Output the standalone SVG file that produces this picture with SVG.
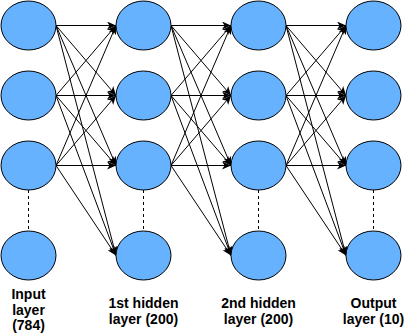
<svg xmlns="http://www.w3.org/2000/svg" width="413" height="334" viewBox="0 0 413 334">
<style>
.n{fill:#66B2FF;stroke:#000;stroke-width:1}
.e{stroke:#000;stroke-width:1;fill:none;marker-end:url(#a)}
.d{stroke:#000;stroke-width:1;stroke-dasharray:3 3;fill:none}
.t{font-family:"Liberation Sans",Arial,sans-serif;font-size:14px;font-weight:bold;fill:#000;text-anchor:middle}
</style>
<defs>
<marker id="a" markerUnits="userSpaceOnUse" markerWidth="9" markerHeight="8" viewBox="0 0 9 8" refX="9" refY="4" orient="auto">
<path d="M0,0 L9,4 L0,8 L2.5,4 z" fill="#000"/>
</marker>
</defs>
<rect width="413" height="334" fill="#fff"/>
<g id="connectors">
<line class="e" x1="56" y1="25.5" x2="116" y2="25.5"/>
<line class="e" x1="56" y1="25.5" x2="116" y2="95.5"/>
<line class="e" x1="56" y1="25.5" x2="116" y2="165.5"/>
<line class="e" x1="56" y1="25.5" x2="116" y2="255.5"/>
<line class="e" x1="56" y1="95.5" x2="116" y2="25.5"/>
<line class="e" x1="56" y1="95.5" x2="116" y2="95.5"/>
<line class="e" x1="56" y1="95.5" x2="116" y2="165.5"/>
<line class="e" x1="56" y1="95.5" x2="116" y2="255.5"/>
<line class="e" x1="56" y1="165.5" x2="116" y2="25.5"/>
<line class="e" x1="56" y1="165.5" x2="116" y2="95.5"/>
<line class="e" x1="56" y1="165.5" x2="116" y2="165.5"/>
<line class="e" x1="56" y1="165.5" x2="116" y2="255.5"/>
<line class="e" x1="171" y1="25.5" x2="231" y2="25.5"/>
<line class="e" x1="171" y1="25.5" x2="231" y2="95.5"/>
<line class="e" x1="171" y1="25.5" x2="231" y2="165.5"/>
<line class="e" x1="171" y1="25.5" x2="231" y2="255.5"/>
<line class="e" x1="171" y1="95.5" x2="231" y2="25.5"/>
<line class="e" x1="171" y1="95.5" x2="231" y2="95.5"/>
<line class="e" x1="171" y1="95.5" x2="231" y2="165.5"/>
<line class="e" x1="171" y1="95.5" x2="231" y2="255.5"/>
<line class="e" x1="171" y1="165.5" x2="231" y2="25.5"/>
<line class="e" x1="171" y1="165.5" x2="231" y2="95.5"/>
<line class="e" x1="171" y1="165.5" x2="231" y2="165.5"/>
<line class="e" x1="171" y1="165.5" x2="231" y2="255.5"/>
<line class="e" x1="286" y1="25.5" x2="346" y2="25.5"/>
<line class="e" x1="286" y1="25.5" x2="346" y2="95.5"/>
<line class="e" x1="286" y1="25.5" x2="346" y2="165.5"/>
<line class="e" x1="286" y1="25.5" x2="346" y2="255.5"/>
<line class="e" x1="286" y1="95.5" x2="346" y2="25.5"/>
<line class="e" x1="286" y1="95.5" x2="346" y2="95.5"/>
<line class="e" x1="286" y1="95.5" x2="346" y2="165.5"/>
<line class="e" x1="286" y1="95.5" x2="346" y2="255.5"/>
<line class="e" x1="286" y1="165.5" x2="346" y2="25.5"/>
<line class="e" x1="286" y1="165.5" x2="346" y2="95.5"/>
<line class="e" x1="286" y1="165.5" x2="346" y2="165.5"/>
<line class="e" x1="286" y1="165.5" x2="346" y2="255.5"/>
<line class="d" x1="28.5" y1="190" x2="28.5" y2="231"/>
<line class="d" x1="143.5" y1="190" x2="143.5" y2="231"/>
<line class="d" x1="258.5" y1="190" x2="258.5" y2="231"/>
<line class="d" x1="373.5" y1="190" x2="373.5" y2="231"/>
</g>
<g id="input-layer">
<ellipse id="in1" class="n" cx="28.5" cy="25.5" rx="27.5" ry="24.5"/>
<ellipse id="in2" class="n" cx="28.5" cy="95.5" rx="27.5" ry="24.5"/>
<ellipse id="in3" class="n" cx="28.5" cy="165.5" rx="27.5" ry="24.5"/>
<ellipse id="in4" class="n" cx="28.5" cy="255.5" rx="27.5" ry="24.5"/>
<text class="t" x="28.5" y="299">Input</text>
<text class="t" x="28.5" y="314.5">layer</text>
<text class="t" x="28.5" y="330">(784)</text>
</g>
<g id="hidden1-layer">
<ellipse id="h1a" class="n" cx="143.5" cy="25.5" rx="27.5" ry="24.5"/>
<ellipse id="h1b" class="n" cx="143.5" cy="95.5" rx="27.5" ry="24.5"/>
<ellipse id="h1c" class="n" cx="143.5" cy="165.5" rx="27.5" ry="24.5"/>
<ellipse id="h1d" class="n" cx="143.5" cy="255.5" rx="27.5" ry="24.5"/>
<text class="t" x="143.5" y="308">1st hidden</text>
<text class="t" x="143.5" y="323.5">layer (200)</text>
</g>
<g id="hidden2-layer">
<ellipse id="h2a" class="n" cx="258.5" cy="25.5" rx="27.5" ry="24.5"/>
<ellipse id="h2b" class="n" cx="258.5" cy="95.5" rx="27.5" ry="24.5"/>
<ellipse id="h2c" class="n" cx="258.5" cy="165.5" rx="27.5" ry="24.5"/>
<ellipse id="h2d" class="n" cx="258.5" cy="255.5" rx="27.5" ry="24.5"/>
<text class="t" x="258.5" y="308">2nd hidden</text>
<text class="t" x="258.5" y="323.5">layer (200)</text>
</g>
<g id="output-layer">
<ellipse id="o1" class="n" cx="373.5" cy="25.5" rx="27.5" ry="24.5"/>
<ellipse id="o2" class="n" cx="373.5" cy="95.5" rx="27.5" ry="24.5"/>
<ellipse id="o3" class="n" cx="373.5" cy="165.5" rx="27.5" ry="24.5"/>
<ellipse id="o4" class="n" cx="373.5" cy="255.5" rx="27.5" ry="24.5"/>
<text class="t" x="373.5" y="308">Output</text>
<text class="t" x="373.5" y="323.5">layer (10)</text>
</g>
</svg>
